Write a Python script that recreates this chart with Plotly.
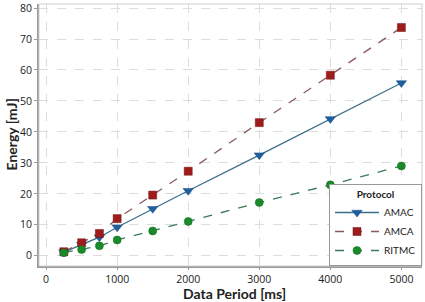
import plotly.graph_objects as go

periods = [250, 500, 750, 1000, 1500, 2000, 3000, 4000, 5000]
amac = [1.2, 3.6, 6.0, 9.2, 15.2, 21.0, 32.5, 44.2, 55.8]
amca = [1.3, 4.2, 7.2, 12.0, 19.6, 27.3, 43.0, 58.3, 73.7]
ritmc = [1.0, 2.0, 3.2, 5.1, 8.0, 11.1, 17.2, 22.9, 29.0]

x_ticks = [0, 1000, 2000, 3000, 4000, 5000]
y_ticks = [0, 10, 20, 30, 40, 50, 60, 70, 80]

fig = go.Figure()
fig.add_trace(go.Scatter(x=periods, y=amac, name="AMAC", mode="lines+markers",
                         line=dict(color="#3a6f8a", width=1.3, dash="solid"),
                         marker=dict(symbol="triangle-down", size=9, color="#1f5f9f",
                                     line=dict(color="#1a4f80", width=0.5))))
fig.add_trace(go.Scatter(x=periods, y=amca, name="AMCA", mode="lines+markers",
                         line=dict(color="#8a5a5a", width=1.3, dash="dash"),
                         marker=dict(symbol="square", size=8, color="#a01c1c",
                                     line=dict(color="#6a1010", width=0.5))))
fig.add_trace(go.Scatter(x=periods, y=ritmc, name="RITMC", mode="lines+markers",
                         line=dict(color="#3a7a5a", width=1.3, dash="dash"),
                         marker=dict(symbol="circle", size=8, color="#1a8a2a",
                                     line=dict(color="#106a1a", width=0.5))))

font_family = "Open Sans, Noto Sans, sans-serif"
title_family = "Lato, Open Sans, sans-serif"
fig.update_layout(
    width=425, height=302,
    margin=dict(l=39, r=3, t=4, b=36, autoexpand=False),
    paper_bgcolor="white", plot_bgcolor="white",
    font=dict(family=font_family, size=11, color="#222"),
    showlegend=True,
    legend=dict(title=dict(text="<b>Protocol</b>", font=dict(size=10, family=title_family), side="top center"),
                x=1.0, y=0.0, xanchor="right", yanchor="bottom",
                bgcolor="white", bordercolor="#999", borderwidth=1,
                font=dict(size=10, family=title_family), tracegroupgap=0, itemwidth=44),
    xaxis=dict(range=[-100, 5290], tickvals=x_ticks, ticktext=[str(v) for v in x_ticks],
               showgrid=True, gridcolor="#dcdcdc", griddash="dash", gridwidth=1,
               zeroline=False, showline=True, linecolor="#999", linewidth=2, mirror=False,
               ticks="outside", ticklen=2, tickcolor="#999", automargin=False,
               ticklabeloverflow="allow",
               tickfont=dict(size=10.5, color="#222")),
    yaxis=dict(range=[-3.3, 81.3], tickvals=y_ticks,
               showgrid=True, gridcolor="#dcdcdc", griddash="dash", gridwidth=1,
               zeroline=False, showline=True, linecolor="#999", linewidth=2, mirror=False,
               ticks="outside", ticklen=3, tickcolor="#999", automargin=False,
               ticklabeloverflow="allow",
               tickfont=dict(size=10.5, color="#222")),
)
fig.add_annotation(text="<b>Data Period [ms]</b>", xref="paper", yref="paper",
                   x=0.51, y=0, yshift=-27, xanchor="center", yanchor="middle", borderpad=0,
                   showarrow=False, font=dict(size=14, color="#222", family=title_family))
fig.add_annotation(text="<b>Energy [mJ]</b>", xref="paper", yref="paper",
                   x=0, xshift=-38, y=0.5, xanchor="left", yanchor="middle", textangle=-90,
                   borderpad=0,
                   showarrow=False, font=dict(size=14, color="#222", family=title_family))
fig.add_shape(type="rect", xref="paper", yref="paper", x0=0, y0=0, x1=1, y1=1,
              line=dict(color="#cfcfcf", width=1))
fig.write_html("out.html", config={"displayModeBar": False},
               post_script="document.body.style.margin='0';document.body.style.padding='0';")
